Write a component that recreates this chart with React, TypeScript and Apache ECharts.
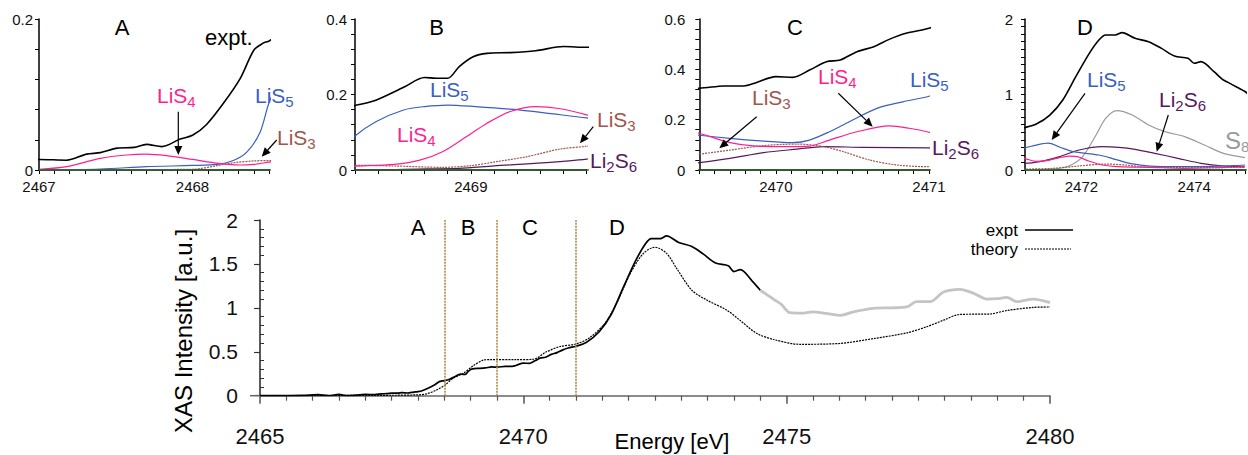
import { useEffect, useRef } from 'react';
import * as echarts from 'echarts';

type P = [number, number];

// ---------- data (energy [eV], intensity [a.u.]) ----------
const expt: P[] = [
  [2465.0, 0.0], [2465.8, 0.003], [2466.1, 0.012], [2466.3, 0.002], [2466.5, 0.014], [2466.65, 0.002],
  [2466.9, 0.01], [2467.0, 0.014], [2467.18, 0.013], [2467.31, 0.021], [2467.4, 0.023], [2467.51, 0.029],
  [2467.62, 0.03], [2467.7, 0.034], [2467.8, 0.031], [2467.92, 0.041], [2468.0, 0.046], [2468.09, 0.06],
  [2468.2, 0.088], [2468.31, 0.121], [2468.4, 0.159], [2468.46, 0.168], [2468.5, 0.171], [2468.59, 0.185],
  [2468.71, 0.219], [2468.8, 0.245], [2468.85, 0.243], [2468.9, 0.243], [2468.95, 0.274], [2469.01, 0.3],
  [2469.07, 0.309], [2469.17, 0.311], [2469.28, 0.316], [2469.4, 0.327], [2469.5, 0.325], [2469.66, 0.334],
  [2469.79, 0.334], [2469.87, 0.347], [2470.0, 0.371], [2470.11, 0.368], [2470.22, 0.397], [2470.33, 0.43],
  [2470.42, 0.437], [2470.53, 0.47], [2470.64, 0.49], [2470.74, 0.519], [2470.85, 0.543], [2471.0, 0.563],
  [2471.2, 0.609], [2471.44, 0.728], [2471.67, 0.927], [2471.9, 1.236], [2472.14, 1.545], [2472.31, 1.722],
  [2472.43, 1.788], [2472.6, 1.788], [2472.72, 1.819], [2472.95, 1.744], [2473.19, 1.7], [2473.42, 1.611],
  [2473.65, 1.51], [2473.89, 1.479], [2474.0, 1.413], [2474.12, 1.435], [2474.35, 1.302], [2474.5, 1.2],
  [2474.6, 1.16], [2474.76, 1.095], [2474.9, 1.04], [2475.06, 0.945], [2475.32, 0.94], [2475.5, 0.955],
  [2475.7, 0.94], [2476.01, 0.915], [2476.27, 0.955], [2476.65, 0.995], [2477.0, 1.0], [2477.28, 1.01],
  [2477.47, 1.07], [2477.72, 1.07], [2477.98, 1.18], [2478.29, 1.21], [2478.55, 1.165], [2478.8, 1.1],
  [2479.0, 1.105], [2479.18, 1.12], [2479.37, 1.07], [2479.68, 1.1], [2480.0, 1.06],
];
const GRAY_FROM = 2474.5;

const theory: P[] = [
  [2465.0, 0.0], [2467.5, 0.005], [2468.0, 0.01], [2468.16, 0.02], [2468.35, 0.065], [2468.51, 0.12],
  [2468.67, 0.2], [2468.86, 0.255], [2469.05, 0.34], [2469.24, 0.405], [2469.37, 0.41], [2469.87, 0.41],
  [2470.19, 0.415], [2470.44, 0.5], [2470.7, 0.56], [2471.01, 0.59], [2471.27, 0.665], [2471.55, 0.825],
  [2471.77, 1.05], [2472.03, 1.39], [2472.28, 1.62], [2472.5, 1.69], [2472.72, 1.62], [2472.91, 1.45],
  [2473.2, 1.2], [2473.48, 1.09], [2473.86, 0.975], [2474.11, 0.86], [2474.43, 0.71], [2474.75, 0.64],
  [2475.25, 0.585], [2476.01, 0.595], [2476.65, 0.65], [2477.28, 0.715], [2477.66, 0.785], [2477.98, 0.86],
  [2478.29, 0.925], [2478.86, 0.93], [2479.18, 0.97], [2479.68, 1.005], [2480.0, 1.01],
];

const lis4: P[] = [
  [2467.0, 0.001], [2467.18, 0.0044], [2467.4, 0.0155], [2467.57, 0.0199], [2467.7, 0.021], [2467.83, 0.019],
  [2468.0, 0.014], [2468.17, 0.0088], [2468.31, 0.0066], [2468.4, 0.0075], [2468.5, 0.0105], [2468.67, 0.015],
  [2468.78, 0.026], [2468.88, 0.049], [2468.98, 0.088], [2469.07, 0.124], [2469.17, 0.155], [2469.28, 0.168],
  [2469.38, 0.163], [2469.5, 0.146], [2469.7, 0.109], [2469.87, 0.095], [2470.05, 0.093], [2470.22, 0.095],
  [2470.35, 0.119], [2470.53, 0.152], [2470.74, 0.175], [2470.87, 0.166], [2471.0, 0.15], [2471.2, 0.115],
  [2471.44, 0.132], [2471.61, 0.163], [2471.79, 0.185], [2471.93, 0.177], [2472.13, 0.119], [2472.37, 0.066],
  [2472.66, 0.044], [2473.24, 0.035], [2473.83, 0.022], [2474.41, 0.031], [2474.9, 0.044],
];
const lis5: P[] = [
  [2467.0, 0.0], [2467.4, 0.0013], [2467.7, 0.0044], [2468.0, 0.006], [2468.16, 0.0075], [2468.27, 0.013],
  [2468.355, 0.024], [2468.44, 0.05], [2468.5, 0.09], [2468.59, 0.128], [2468.71, 0.159], [2468.8, 0.168],
  [2468.9, 0.172], [2469.02, 0.168], [2469.17, 0.161], [2469.31, 0.152], [2469.5, 0.138], [2469.7, 0.126],
  [2469.92, 0.115], [2470.11, 0.109], [2470.22, 0.119], [2470.35, 0.152], [2470.48, 0.192], [2470.66, 0.245],
  [2470.83, 0.271], [2471.0, 0.293], [2471.2, 0.33], [2471.41, 0.355], [2471.61, 0.305], [2471.85, 0.243],
  [2472.08, 0.221], [2472.31, 0.199], [2472.54, 0.155], [2472.78, 0.102], [2473.13, 0.057], [2473.53, 0.044],
  [2474.12, 0.044], [2474.7, 0.057], [2474.9, 0.066],
];
const lis3: P[] = [
  [2467.0, 0.0], [2468.0, 0.001], [2468.16, 0.0057], [2468.27, 0.0097], [2468.4, 0.012], [2468.5, 0.0125],
  [2468.67, 0.0106], [2468.88, 0.007], [2469.0, 0.0115], [2469.11, 0.022], [2469.24, 0.035], [2469.38, 0.055],
  [2469.5, 0.063], [2469.7, 0.079], [2469.92, 0.097], [2470.14, 0.103], [2470.31, 0.093], [2470.44, 0.073],
  [2470.61, 0.04], [2470.79, 0.02], [2471.0, 0.013], [2471.5, 0.022], [2471.96, 0.053], [2472.43, 0.079],
  [2472.78, 0.066], [2473.13, 0.04], [2473.83, 0.03], [2474.9, 0.035],
];
const li2s6: P[] = [
  [2467.0, 0.0], [2468.5, 0.0], [2468.81, 0.003], [2468.95, 0.0044], [2469.1, 0.011], [2469.31, 0.019],
  [2469.5, 0.029], [2469.7, 0.046], [2469.92, 0.069], [2470.14, 0.083], [2470.31, 0.093], [2470.57, 0.09],
  [2471.0, 0.088], [2471.26, 0.11], [2471.61, 0.177], [2471.96, 0.265], [2472.37, 0.309], [2472.66, 0.3],
  [2472.95, 0.274], [2473.3, 0.221], [2473.71, 0.155], [2474.12, 0.088], [2474.52, 0.053], [2474.9, 0.044],
];
const s8: P[] = [
  [2471.0, 0.0], [2471.5, 0.013], [2471.79, 0.057], [2472.02, 0.177], [2472.26, 0.464], [2472.43, 0.684],
  [2472.63, 0.786], [2472.9, 0.728], [2473.19, 0.596], [2473.48, 0.508], [2473.83, 0.442], [2474.18, 0.331],
  [2474.52, 0.221], [2474.9, 0.165],
];
const li2s: P[] = [[2467.0, 0.0], [2475.0, 0.0]];

const regionBounds = [2468.5, 2469.5, 2471];
const regionNames = ['A', 'B', 'C', 'D'];

// ---------- styling ----------
const FONT = "'Liberation Sans', Arial, Helvetica, sans-serif";
const C = {
  lis4: '#ff1f8e',
  lis5: '#3a5fc0',
  lis3: '#a0564c',
  li2s6: '#561a5c',
  s8: '#9a9a9a',
  li2s: '#2f6b2f',
};

type Panel = {
  left: number; width: number; xMin: number; xMax: number; xStep: number; xLabelStep: number;
  yMax: number; yStep: number; yLabelStep: number; yMargin: number;
};
const panels: Panel[] = [
  { left: 39, width: 230.3, xMin: 2467, xMax: 2468.5, xStep: 0.1, xLabelStep: 1, yMax: 0.2, yStep: 0.04, yLabelStep: 0.2, yMargin: 6 },
  { left: 355, width: 231.7, xMin: 2468.5, xMax: 2469.5, xStep: 0.1, xLabelStep: 1, yMax: 0.4, yStep: 0.04, yLabelStep: 0.2, yMargin: 8 },
  { left: 699.3, width: 229.7, xMin: 2469.5, xMax: 2471, xStep: 0.1, xLabelStep: 1, yMax: 0.6, yStep: 0.04, yLabelStep: 0.2, yMargin: 14 },
  { left: 1025, width: 223.1, xMin: 2471, xMax: 2474.9, xStep: 0.25, xLabelStep: 2, yMax: 2, yStep: 0.1, yLabelStep: 1, yMargin: 12 },
];

const every = (step: number) => (v: number) => {
  const k = v / step;
  return Math.abs(k - Math.round(k)) < 1e-6 ? String(+v.toFixed(3)) : '';
};

function chem(parts: [string, string][], x: number, y: number, color: string, size = 21) {
  const text = parts.map(([n, s]) => `{n|${n}}` + (s ? `{s|${s}}` : '')).join('');
  return {
    type: 'text', x, y, z: 100, silent: true,
    style: {
      text, fill: color, textAlign: 'left', textVerticalAlign: 'middle',
      rich: {
        n: { fontSize: size, fontFamily: FONT, fill: color },
        s: { fontSize: 15, fontFamily: FONT, fill: color, padding: [12, 0, 0, 0] },
      },
    },
  };
}

function plain(text: string, x: number, y: number, size: number, align = 'center', color = '#000') {
  return {
    type: 'text', x, y, z: 100, silent: true,
    style: { text, fill: color, fontSize: size, fontFamily: FONT, textAlign: align, textVerticalAlign: 'middle' },
  };
}

function arrow(x1: number, y1: number, x2: number, y2: number) {
  const dx = x2 - x1, dy = y2 - y1, L = Math.hypot(dx, dy);
  const ux = dx / L, uy = dy / L, hl = 9, hw = 4;
  const bx = x2 - ux * hl, by = y2 - uy * hl;
  return [
    { type: 'line', z: 100, silent: true, shape: { x1, y1, x2: bx, y2: by }, style: { stroke: '#000', lineWidth: 1.2 } },
    {
      type: 'polygon', z: 100, silent: true,
      shape: { points: [[x2, y2], [bx + uy * hw, by - ux * hw], [bx - uy * hw, by + ux * hw]] },
      style: { fill: '#000' },
    },
  ];
}

function line(data: P[], axis: number, color: string, width: number, extra: any = {}) {
  return {
    type: 'line', xAxisIndex: axis, yAxisIndex: axis, data, symbol: 'none', showSymbol: false,
    smooth: 0.3, silent: true, clip: true,
    lineStyle: { color, width, type: extra.dash || 'solid' },
    z: extra.z ?? 2,
    ...(extra.markLine ? { markLine: extra.markLine } : {}),
  };
}

export default function App() {
  const ref = useRef<HTMLDivElement>(null);

  useEffect(() => {
    if (!ref.current) return;
    const chart = echarts.init(ref.current, undefined, { renderer: 'svg' });

    const grids: any[] = panels.map((p) => ({ left: p.left, top: 19, width: p.width, height: 151 }));
    grids.push({ left: 260, top: 220, width: 790, height: 175.7 });

    const xAxes: any[] = panels.map((p, i) => ({
      gridIndex: i, type: 'value', position: 'bottom', min: p.xMin, max: p.xMax, interval: p.xStep,
      axisLine: { show: true, onZero: false, lineStyle: { color: '#000', width: 1.5 } },
      axisTick: { show: true, length: 4, lineStyle: { color: '#000', width: 1 } },
      axisLabel: { formatter: every(p.xLabelStep), fontSize: 15, color: '#111', fontFamily: FONT, margin: 9 },
      splitLine: { show: false },
    }));
    xAxes.push({
      gridIndex: 4, type: 'value', position: 'bottom', min: 2465, max: 2480, interval: 5,
      axisLine: { show: true, onZero: false, lineStyle: { color: '#666', width: 1.5 } },
      axisTick: { show: true, length: 8, lineStyle: { color: '#555', width: 1.5 } },
      minorTick: { show: true, splitNumber: 10, length: 5, lineStyle: { color: '#555', width: 1.2 } },
      axisLabel: { formatter: (v: number) => String(v), fontSize: 22, color: '#111', fontFamily: FONT, margin: 30 },
      splitLine: { show: false },
    });

    const yAxes: any[] = panels.map((p, i) => ({
      gridIndex: i, type: 'value', position: 'left', min: 0, max: p.yMax, interval: p.yStep,
      axisLine: { show: true, onZero: false, lineStyle: { color: '#000', width: 1.5 } },
      axisTick: { show: true, length: 4, lineStyle: { color: '#000', width: 1 } },
      axisLabel: { formatter: every(p.yLabelStep), fontSize: 15, color: '#111', fontFamily: FONT, margin: p.yMargin },
      splitLine: { show: false },
    }));
    yAxes.push({
      gridIndex: 4, type: 'value', position: 'left', min: 0, max: 2, interval: 0.5,
      axisLine: { show: true, onZero: false, lineStyle: { color: '#222', width: 1.5 } },
      axisTick: { show: true, length: 6, lineStyle: { color: '#333', width: 1.2 } },
      axisLabel: { formatter: (v: number) => String(v), fontSize: 21, color: '#111', fontFamily: FONT, margin: 22 },
      splitLine: { show: false },
    });
    yAxes.push({
      gridIndex: 4, type: 'value', position: 'left', offset: 0, min: 0, max: 2, interval: 0.5,
      axisLine: { show: false },
      axisTick: { show: false, inside: true },
      minorTick: { show: true, splitNumber: 5, length: 4, lineStyle: { color: '#333', width: 1 } },
      axisLabel: { show: false },
      splitLine: { show: false },
    });

    const series: any[] = [];
    // inset A
    series.push(line(li2s, 0, C.li2s, 1.5, { z: 3 }));
    series.push(line(lis3, 0, C.lis3, 1.2, { dash: [2, 1] }));
    series.push(line(lis5, 0, C.lis5, 1.2));
    series.push(line(lis4, 0, C.lis4, 1.2));
    series.push(line(expt, 0, '#000', 1.6, { z: 4 }));
    // inset B
    series.push(line(li2s, 1, C.li2s, 1.5, { z: 3 }));
    series.push(line(li2s6, 1, C.li2s6, 1.2));
    series.push(line(lis3, 1, C.lis3, 1.2, { dash: [2, 1] }));
    series.push(line(lis5, 1, C.lis5, 1.2));
    series.push(line(lis4, 1, C.lis4, 1.2));
    series.push(line(expt, 1, '#000', 1.6, { z: 4 }));
    // inset C
    series.push(line(li2s, 2, C.li2s, 1.5, { z: 3 }));
    series.push(line(li2s6, 2, C.li2s6, 1.2));
    series.push(line(lis3, 2, C.lis3, 1.2, { dash: [2, 1] }));
    series.push(line(lis5, 2, C.lis5, 1.2));
    series.push(line(lis4, 2, C.lis4, 1.2));
    series.push(line(expt, 2, '#000', 1.6, { z: 4 }));
    // inset D
    series.push(line(li2s, 3, C.li2s, 1.5, { z: 3 }));
    series.push(line(s8, 3, C.s8, 1.2));
    series.push(line(lis3, 3, C.lis3, 1.2, { dash: [2, 1] }));
    series.push(line(li2s6, 3, C.li2s6, 1.2));
    series.push(line(lis5, 3, C.lis5, 1.2));
    series.push(line(lis4, 3, C.lis4, 1.2));
    series.push(line(expt, 3, '#000', 1.6, { z: 4 }));
    // main
    series.push(line(theory, 4, '#000', 1.2, {
      dash: [2, 1],
      markLine: {
        silent: true, symbol: ['none', 'none'], label: { show: false },
        lineStyle: { color: '#b08a4a', width: 1.6, type: [2, 1] },
        data: regionBounds.map((x) => ({ xAxis: x })),
      },
    }));
    series.push(line(expt.filter((p) => p[0] <= GRAY_FROM), 4, '#000', 1.7, { z: 4 }));
    series.push(line(expt.filter((p) => p[0] >= GRAY_FROM), 4, '#c4c4c4', 2.8, { z: 4 }));

    const graphic: any[] = [
      // main panel letters
      plain(regionNames[0], 418, 227, 22),
      plain(regionNames[1], 468, 227, 22),
      plain(regionNames[2], 530, 227, 22),
      plain(regionNames[3], 617, 227, 22),
      // inset letters
      plain(regionNames[0], 122, 27.5, 22),
      plain(regionNames[1], 436.5, 27, 22),
      plain(regionNames[2], 795, 27, 22),
      plain(regionNames[3], 1085, 27, 22),
      plain('expt.', 205, 37, 22, 'left'),
      // species labels
      chem([['LiS', '4']], 157, 95.5, C.lis4),
      chem([['LiS', '5']], 255, 95.5, C.lis5),
      chem([['LiS', '3']], 277, 137.5, C.lis3),
      chem([['LiS', '5']], 430, 89, C.lis5),
      chem([['LiS', '4']], 397, 134, C.lis4),
      chem([['LiS', '3']], 597, 119, C.lis3),
      chem([['Li', '2'], ['S', '6']], 590, 160.5, C.li2s6),
      chem([['LiS', '3']], 752, 97.5, C.lis3),
      chem([['LiS', '4']], 818, 76, C.lis4),
      chem([['LiS', '5']], 910, 79, C.lis5),
      chem([['Li', '2'], ['S', '6']], 932, 147.5, C.li2s6),
      chem([['LiS', '5']], 1087, 79, C.lis5),
      chem([['Li', '2'], ['S', '6']], 1159, 99.5, C.li2s6),
      chem([['S', '8']], 1225, 140, C.s8, 24),
      // arrows
      ...arrow(178.3, 111.7, 178.3, 155),
      ...arrow(276.7, 140, 261.7, 156.7),
      ...arrow(593.3, 126.7, 580, 143.3),
      ...arrow(756.7, 116.7, 719.3, 148.3),
      ...arrow(838.3, 93.3, 872.7, 126.7),
      ...arrow(1085, 93.3, 1051.7, 140),
      ...arrow(1168.3, 115, 1156.7, 151.7),
      // main x-axis line stub left of the y-axis
      { type: 'line', z: 100, silent: true, shape: { x1: 250, y1: 395.7, x2: 260, y2: 395.7 }, style: { stroke: '#666', lineWidth: 1.5 } },
      // axis titles
      plain('Energy [eV]', 672, 441, 22),
      {
        type: 'text', x: 183, y: 331, rotation: Math.PI / 2, z: 100, silent: true,
        style: { text: 'XAS Intensity [a.u.]', fill: '#000', fontSize: 24, fontFamily: FONT, textAlign: 'center', textVerticalAlign: 'middle' },
      },
      // legend
      plain('expt', 1018, 230, 17, 'right'),
      { type: 'line', z: 100, silent: true, shape: { x1: 1025, y1: 230, x2: 1073, y2: 230 }, style: { stroke: '#000', lineWidth: 1.6 } },
      plain('theory', 1018, 249, 17, 'right'),
      { type: 'line', z: 100, silent: true, shape: { x1: 1025, y1: 249, x2: 1071, y2: 249 }, style: { stroke: '#000', lineWidth: 1.2, lineDash: [2, 1] } },
    ];

    chart.setOption({
      animation: false,
      backgroundColor: '#fff',
      textStyle: { fontFamily: FONT },
      grid: grids,
      xAxis: xAxes,
      yAxis: yAxes,
      series,
      graphic,
    });

    return () => chart.dispose();
  }, []);

  return <div ref={ref} style={{ position: 'absolute', left: 0, top: 0, width: 1248, height: 455 }} />;
}
